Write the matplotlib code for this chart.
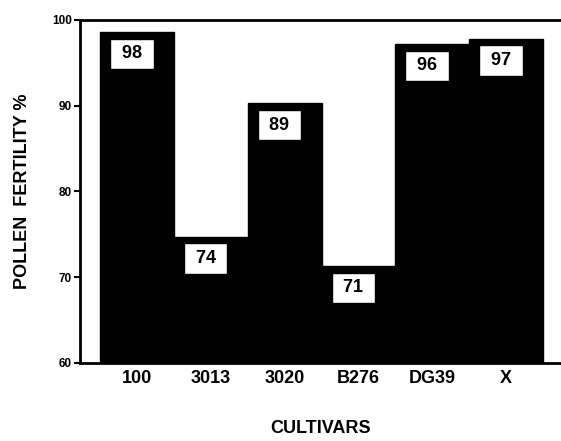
import numpy as np
import matplotlib.pyplot as plt

plt.rcParams['font.family'] = ['Liberation Sans Narrow', 'Liberation Sans', 'DejaVu Sans']

# Pollen fertility per cultivar
cultivars = ["100", "3013", "3020", "B276", "DG39", "X"]
heights = [98.6, 74.7, 90.3, 71.3, 97.2, 97.8]
labels = ["98", "74", "89", "71", "96", "97"]
y_ticks = [60, 70, 80, 90, 100]

fig = plt.figure(figsize=(5.61, 4.41), dpi=100)
ax = fig.add_axes([80 / 561, 1 - 363 / 441, 1 - 80 / 561, (363 - 20) / 441])

x = np.arange(len(cultivars))
ax.bar(x, heights, width=1.0, color="black", edgecolor="black")

for xi, h, lab in zip(x, heights, labels):
    ax.text(xi - 0.07, h - 2.55, " " + lab + " ", ha="center", va="center",
            fontsize=13, fontweight="bold", color="black",
            bbox=dict(boxstyle="square,pad=0.38", fc="white", ec="black", lw=1))

ax.set_xlim(-0.77, 5.74)
ax.set_ylim(60, 100)
ax.set_yticks(y_ticks)
ax.set_yticklabels([str(t) for t in y_ticks], fontsize=8.5, fontweight="bold")
ax.set_xticks(x)
ax.set_xticklabels(cultivars, fontsize=13, fontweight="bold")
ax.tick_params(axis="x", length=0, pad=5)
ax.tick_params(axis="y", length=4, width=1.5, pad=2)

for side in ["left", "top", "bottom"]:
    ax.spines[side].set_linewidth(2)
ax.spines["right"].set_visible(False)

ax.set_xlabel("CULTIVARS", fontsize=13, fontweight="bold")
ax.set_ylabel("POLLEN  FERTILITY %", fontsize=13, fontweight="bold")
ax.xaxis.set_label_coords(0.5, -0.165)
ax.yaxis.set_label_coords(-0.102, 0.5)

fig.savefig("out.png", dpi=100)
